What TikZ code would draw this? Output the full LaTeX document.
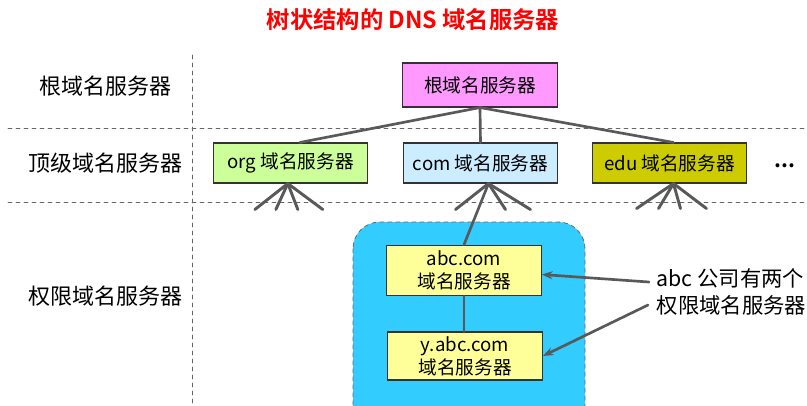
\documentclass[tikz,border=0pt]{standalone}
\usepackage{fontspec}
\setmainfont{Noto Sans CJK SC}[BoldFont={Noto Sans CJK SC Bold}]
\usetikzlibrary{arrows.meta,positioning}

\begin{document}
\begin{tikzpicture}
			[x=0.75pt,y=-0.75pt,line cap=round,
			%Styles
			sep line/.style={gray!80!black,dashed,line width=0.6pt},
			level text/.style={font=\fontsize{16.5}{19}\selectfont,anchor=center},
			server/.style={draw=black!80,line width=0.8pt,minimum width=116pt,inner sep=2pt,font=\fontsize{14}{17}\selectfont,align=center},
			link/.style={draw=black!65,line width=2pt},
			fan/.style={draw=black!65,line width=2.2pt},
			pointer/.style={draw=black!65,line width=2pt,-{Stealth[length=8pt,width=6pt]}}
			]
			
			%Colors
			\definecolor{rootcolor}{HTML}{FF99FF}
			\definecolor{orgcolor}{HTML}{CCFF99}
			\definecolor{comcolor}{HTML}{CCECFF}
			\definecolor{educolor}{HTML}{CCCC00}
			\definecolor{authcolor}{HTML}{FFFF99}
			\definecolor{zonecolor}{HTML}{33CCFF}
			
			\useasboundingbox (0,0) rectangle (807,405);
			
			%Title
			\node[red,font=\fontsize{17.5}{20}\selectfont\bfseries] (title) at (413,20) {树状结构的 DNS 域名服务器};
			
			%Separators
			\draw[sep line] (192,55) -- (192,405);
			\draw[sep line] (8,128) -- (807,128);
			\draw[sep line] (8,202) -- (807,202);
			
			%Level names
			\node[level text] (rootlevel) at (105,86) {根域名服务器};
			\node[level text] (toplevel) at (105,163) {顶级域名服务器};
			\node[level text] (authlevel) at (105,296) {权限域名服务器};
			
			%The zone of abc
			\draw[fill=zonecolor,draw=black!60,dashed,line width=0.6pt,rounded corners=20pt] (353,222) rectangle (585,440);
			
			%The servers
			\node[server,fill=rootcolor,minimum height=33pt] (root) at (480,85) {根域名服务器};
			\node[server,fill=orgcolor,minimum height=30pt] (org) at (290.5,163) {org 域名服务器};
			\node[server,fill=comcolor,minimum height=30pt] (com) at (480.5,163) {com 域名服务器};
			\node[server,fill=educolor,minimum height=30pt] (edu) at (669.5,163) {edu 域名服务器};
			\node[font=\fontsize{16}{19}\selectfont\bfseries] (more) at (785,166) {...};
			\node[server,fill=authcolor,minimum height=38pt,inner sep=1pt] (abc) at (464,270.5) {abc.com\\域名服务器};
			\node[server,fill=authcolor,minimum height=36pt,inner sep=1pt] (yabc) at (465,356) {y.abc.com\\域名服务器};
			
			%The tree
			\draw[link] (root.south) -- ([xshift=7]org.north);
			\draw[link] (root.south) -- (com.north);
			\draw[link] (root.south) -- ([xshift=3]edu.north);
			\draw[link] ([xshift=6]com.south) -- (abc.north);
			\draw[link] (abc.south) -- (yabc.north -| abc.south);
			
			%Further branches
			\foreach \dx in {-33,-12,10,35}
				\draw[fan] ([xshift=-2]org.south) -- ++(\dx,26);
			\foreach \dx in {-33,17,42}
				\draw[fan] ([xshift=6]com.south) -- ++(\dx,26);
			\foreach \dx in {-37,-15,7,33}
				\draw[fan] ([xshift=3]edu.south) -- ++(\dx,25);
			
			%Note
			\node[anchor=west,align=left,font=\fontsize{16}{20}\selectfont] (note) at (652,292) {abc 公司有两个\\权限域名服务器};
			\coordinate (from abc) at ([shift={(-3,-10)}]note.west);
			\coordinate (from yabc) at ([shift={(-4,13)}]note.west);
			\draw[pointer] (from abc) -- ([yshift=-3]abc.east);
			\draw[pointer] (from yabc) -- (yabc.east);
		\end{tikzpicture}
\end{document}
